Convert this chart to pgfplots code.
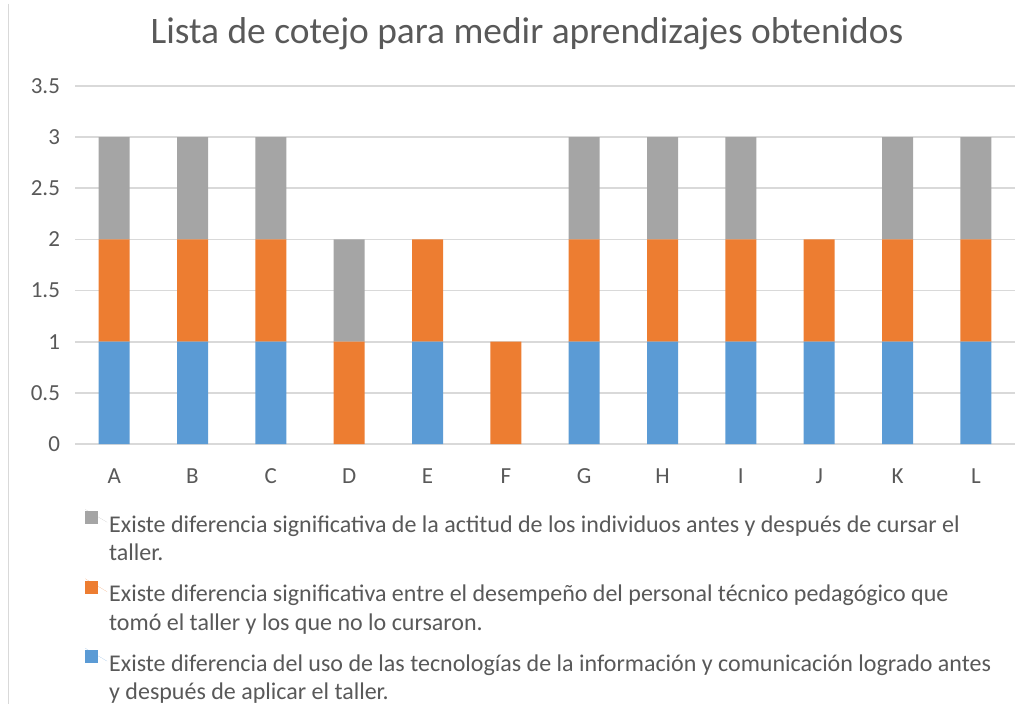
\documentclass[border=0pt]{standalone}
\usepackage{pgfplots}
\pgfplotsset{compat=1.18}
\usepackage{fontspec}
\setmainfont{Carlito}
\definecolor{cgray}{HTML}{A5A5A5}
\definecolor{corange}{HTML}{ED7D31}
\definecolor{cblue}{HTML}{5B9BD5}
\definecolor{cgrid}{HTML}{D9D9D9}
\definecolor{ctext}{HTML}{595959}
\begin{document}
\begin{tikzpicture}
% 1 px of the reference = 0.5pt
\path[use as bounding box] (0,0) rectangle (516pt,-352.5pt);
\draw[cgrid] (4pt,-2pt) -- (4pt,-352pt);
\node[text=ctext, font=\fontsize{18.7}{22}\selectfont] at (263.5pt,-17pt) {Lista de cotejo para medir aprendizajes obtenidos};
\begin{axis}[
    at={(37.5pt,-222pt)}, anchor=south west,
    scale only axis, width=470pt, height=179pt,
    ybar stacked, bar width=15.5pt,
    xmin=-0.5, xmax=11.5, ymin=0, ymax=3.5,
    xtick={0,...,11},
    xticklabels={A,B,C,D,E,F,G,H,I,J,K,L},
    ytick={0,0.5,...,3.5},
    yticklabels={0,0.5,1,1.5,2,2.5,3,3.5},
    major tick length=0pt,
    axis x line*=bottom, axis y line*=left,
    x axis line style={draw=none},
    y axis line style={draw=none},
    ymajorgrids, grid style={cgrid, line width=0.8pt},
    ticklabel style={text=ctext, font=\fontsize{11.5}{13}\selectfont},
    yticklabel style={xshift=-4pt},
    xticklabel style={yshift=-9pt},
    legend style={at={(0.004,-0.17)}, anchor=north west, draw=none,
        font=\fontsize{12}{14.2}\selectfont, text=ctext,
        nodes={align=left, anchor=north west, inner sep=1pt},
        row sep=6.5pt, legend cell align=left},
    reverse legend,
    legend image code/.code={\fill[#1] (0pt,-5.5pt) rectangle (6.5pt,1pt); \path (0pt,2pt) -- (11pt,-4.5pt);},
]
\addplot[fill=cblue, draw=none] coordinates {(0,1) (1,1) (2,1) (3,0) (4,1) (5,0) (6,1) (7,1) (8,1) (9,1) (10,1) (11,1)};
\addlegendentry{Existe diferencia del uso de las tecnologías de la información y comunicación logrado antes\\y después de aplicar el taller.}
\addplot[fill=corange, draw=none] coordinates {(0,1) (1,1) (2,1) (3,1) (4,1) (5,1) (6,1) (7,1) (8,1) (9,1) (10,1) (11,1)};
\addlegendentry{Existe diferencia significativa entre el desempeño del personal técnico pedagógico que\\tomó el taller y los que no lo cursaron.}
\addplot[fill=cgray, draw=none] coordinates {(0,1) (1,1) (2,1) (3,1) (4,0) (5,0) (6,1) (7,1) (8,1) (9,0) (10,1) (11,1)};
\addlegendentry{Existe diferencia significativa de la actitud de los individuos antes y después de cursar el\\taller.}
\draw[cgrid, line width=0.8pt] (rel axis cs:0,0) -- (rel axis cs:1,0);
\end{axis}
\end{tikzpicture}
\end{document}
